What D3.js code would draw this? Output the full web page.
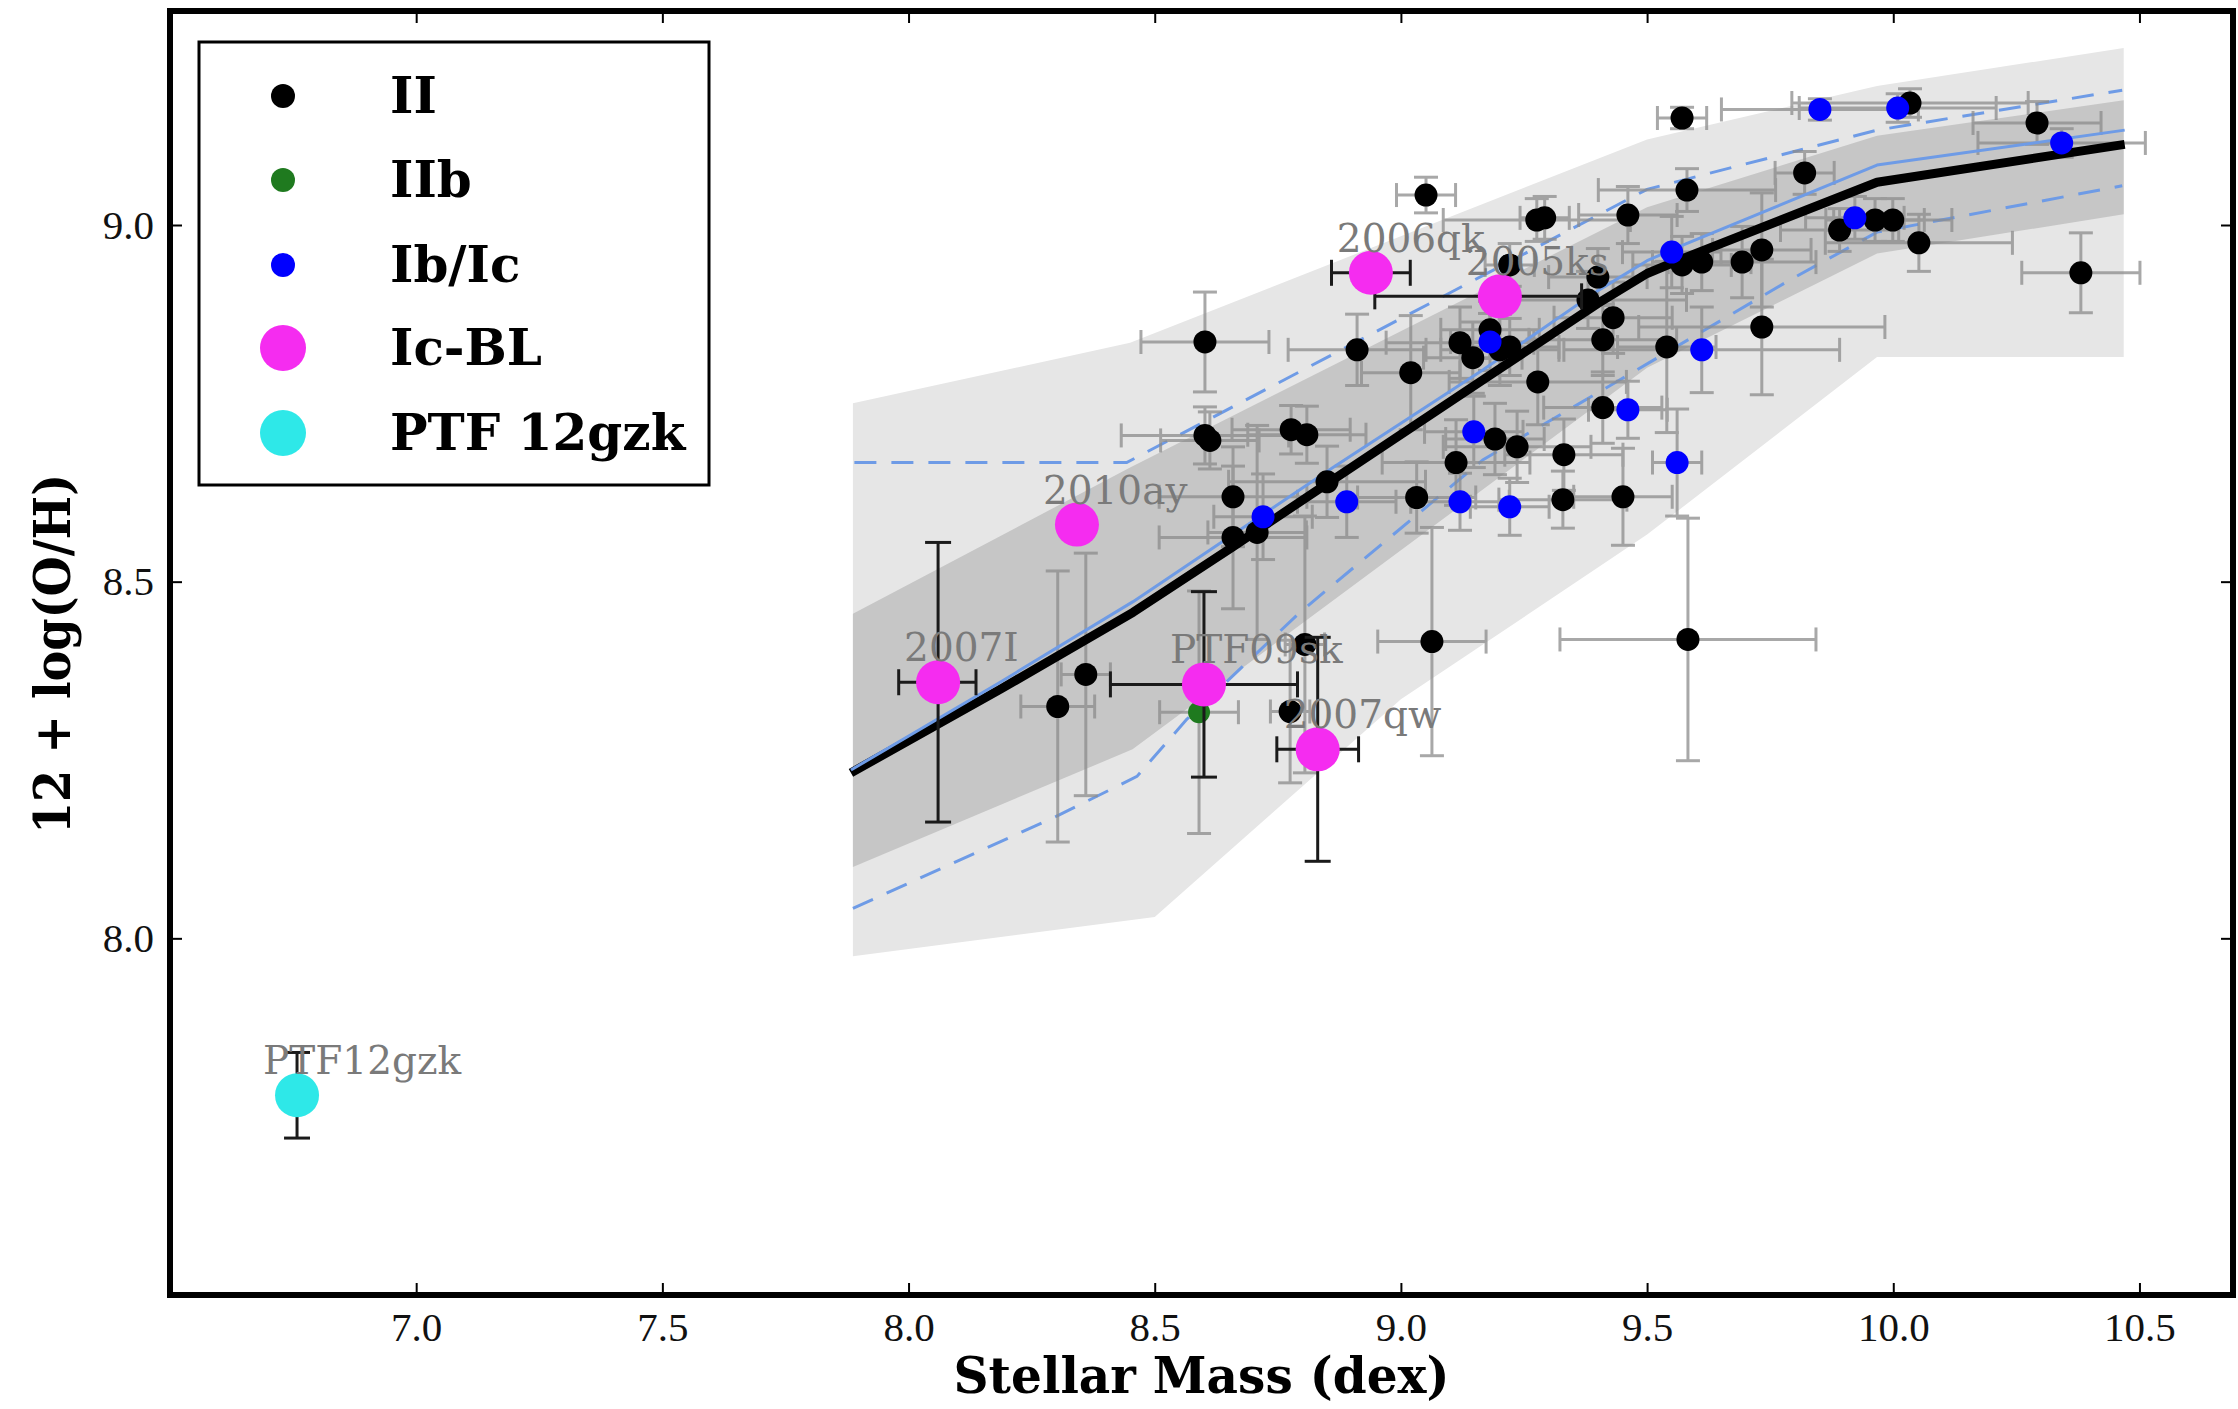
<!DOCTYPE html>
<html><head><meta charset="utf-8">
<script src="https://cdn.jsdelivr.net/npm/d3@7"></script>
<style>html,body{margin:0;padding:0;background:#fff;overflow:hidden;}</style>
</head><body>
<svg id="chart" width="2238" height="1409"></svg>
<script>
// ---------------- DATA ----------------
const xTicks = [7.0, 7.5, 8.0, 8.5, 9.0, 9.5, 10.0, 10.5];
const yTicks = [8.0, 8.5, 9.0];

// Type II
const iiX = [9.051, 9.276, 9.292, 9.461, 9.571, 10.034, 10.292, 9.820, 9.581, 9.571, 9.611, 9.693, 9.733, 9.891, 9.963, 9.999, 10.052, 10.381, 9.733, 9.540, 9.400, 9.380, 9.431, 9.410, 9.410, 9.451, 9.583, 9.063, 8.602, 8.911, 9.020, 9.120, 9.146, 9.181, 9.201, 9.221, 9.278, 8.602, 8.612, 8.777, 8.809, 9.112, 9.191, 9.236, 9.331, 8.659, 8.850, 9.032, 9.329, 8.659, 8.708, 8.360, 8.303, 8.805, 8.775, 9.221];
const iiY = [9.042, 9.007, 9.010, 9.014, 9.150, 9.171, 9.143, 9.073, 9.049, 8.944, 8.948, 8.948, 8.965, 8.993, 9.007, 9.007, 8.975, 8.933, 8.857, 8.829, 8.927, 8.895, 8.870, 8.839, 8.744, 8.619, 8.419, 8.416, 8.836, 8.825, 8.793, 8.835, 8.814, 8.853, 8.825, 8.829, 8.780, 8.705, 8.698, 8.713, 8.706, 8.667, 8.700, 8.689, 8.678, 8.619, 8.640, 8.618, 8.615, 8.562, 8.569, 8.370, 8.325, 8.412, 8.318, 8.944];
const iiXerr = [.06,.19,.05,.10,.05,.24,.13,.06,.18,.10,.10,.15,.10,.12,.10,.12,.19,.12,.25,.10,.10,.20,.12,.15,.12,.10,.26,.11,.13,.14,.10,.15,.10,.10,.12,.10,.18,.17,.10,.12,.12,.15,.10,.15,.12,.15,.20,.12,.13,.15,.10,.05,.075,.04,.04,.05];
const iiYerr = [.025,.03,.03,.04,.015,.02,.03,.03,.03,.04,.04,.05,.08,.03,.03,.03,.04,.056,.095,.12,.04,.04,.05,.05,.05,.068,.17,.16,.07,.05,.08,.05,.05,.04,.05,.04,.06,.04,.04,.034,.04,.06,.05,.05,.05,.07,.05,.05,.04,.10,.15,.17,.19,.18,.10,.03];

// Type IIb
const iibX = [8.590];
const iibY = [8.317];
const iibXerr = [0.08];
const iibYerr = [0.17];

// Type Ib/Ic
const ibX = [9.851, 10.009, 10.342, 9.922, 9.550, 9.611, 9.461, 9.561, 9.181, 9.148, 8.720, 8.890, 9.120, 9.221];
const ibY = [9.162, 9.164, 9.115, 9.010, 8.962, 8.825, 8.741, 8.667, 8.836, 8.710, 8.591, 8.612, 8.612, 8.605];
const ibXerr = [.20, .20, .17, .10, .10, .28, .08, .05, .08, .10, .10, .10, .10, .08];
const ibYerr = [.015, .02, .02, .03, .05, .06, .04, .075, .04, .05, .06, .05, .04, .04];

// Type Ic-BL (labelled)
const icblNames = ['2006qk', '2005ks', '2010ay', '2007I', 'PTF09sk', '2007qw'];
const icblX = [8.939, 9.201, 8.342, 8.060, 8.600, 8.831];
const icblY = [8.933, 8.900, 8.580, 8.359, 8.356, 8.265];
const icblXerrLo = [.08, .254, 0, .08, .19, .083];
const icblXerrHi = [.08, .166, 0, .077, .19, .083];
const icblYerr = [.01, .01, 0, .196, .13, .157];

// PTF 12gzk
const gzkName = ['PTF12gzk'];
const gzkX = [6.758];
const gzkY = [7.78];
const gzkYerr = [0.06];

// Bands (mass-metallicity relation percentiles)
const outerUpX = [7.887, 8.45, 9.5, 9.967, 10.468];
const outerUpY = [8.75, 8.835, 9.12, 9.195, 9.248];
const outerLoX = [7.887, 8.5, 9.0, 9.5, 9.967, 10.468];
const outerLoY = [7.975, 8.03, 8.335, 8.566, 8.815, 8.815];
const innerUpX = [7.887, 8.45, 9.5, 9.967, 10.468];
const innerUpY = [8.455, 8.66, 9.025, 9.125, 9.175];
const innerLoX = [7.887, 8.455, 9.5, 9.967, 10.468];
const innerLoY = [8.10, 8.265, 8.80, 8.96, 9.015];

const dashUpX = [7.89, 8.443, 9.5, 9.967, 10.465];
const dashUpY = [8.667, 8.667, 9.05, 9.133, 9.189];
const dashLoX = [7.887, 8.30, 8.464, 8.565, 8.795, 9.167, 9.445, 9.79, 9.967, 10.465];
const dashLoY = [8.042, 8.171, 8.227, 8.307, 8.457, 8.671, 8.783, 8.923, 8.99, 9.055];

const relX = [7.883, 8.186, 8.456, 8.659, 8.862, 9.167, 9.40, 9.50, 9.58, 9.967, 10.47];
const relBlackY = [8.232, 8.349, 8.457, 8.549, 8.643, 8.783, 8.89, 8.932, 8.955, 9.06, 9.113];
const relBlueY = [8.236, 8.359, 8.472, 8.566, 8.66, 8.797, 8.908, 8.95, 8.974, 9.084, 9.133];

const legendLabels = ['II', 'IIb', 'Ib/Ic', 'Ic-BL', 'PTF 12gzk'];
const legendColors = ['#000000', '#1f7a1f', '#0000ff', '#f52cf0', '#2ee8e8'];

// ---------------- DRAW ----------------
const svg = d3.select('#chart');
const L = 170, R = 2233, T = 11, B = 1295;
const x = d3.scaleLinear().domain([6.5, 10.69]).range([L, R]);
const y = d3.scaleLinear().domain([7.5, 9.3]).range([B, T]);

svg.append('rect').attr('width', 2238).attr('height', 1409).attr('fill', '#fff');
svg.append('defs').append('clipPath').attr('id', 'clip')
  .append('rect').attr('x', L).attr('y', T).attr('width', R - L).attr('height', B - T);
const plot = svg.append('g').attr('clip-path', 'url(#clip)');

const zip = (xs, ys) => xs.map((v, i) => [v, ys[i]]);
const line = d3.line().x(d => x(d[0])).y(d => y(d[1]));

function band(ux, uy, lx, ly, fill) {
  const pts = zip(ux, uy).concat(zip(lx, ly).reverse());
  plot.append('path').attr('d', line(pts) + 'Z').attr('fill', fill).attr('stroke', 'none');
}
band(outerUpX, outerUpY, outerLoX, outerLoY, '#e6e6e6');
band(innerUpX, innerUpY, innerLoX, innerLoY, '#c6c6c6');

plot.append('path').attr('d', line(zip(dashUpX, dashUpY))).attr('fill', 'none')
  .attr('stroke', '#6e9be6').attr('stroke-width', 3).attr('stroke-dasharray', '22,15');
plot.append('path').attr('d', line(zip(dashLoX, dashLoY))).attr('fill', 'none')
  .attr('stroke', '#6e9be6').attr('stroke-width', 3).attr('stroke-dasharray', '22,15');

function errorBars(g, xs, ys, xlo, xhi, ye, color, width, cap) {
  xs.forEach((xv, i) => {
    const cx = x(xv), cy = y(ys[i]);
    const a = xlo[i], b = xhi[i], e = ye[i];
    if (a > 0 || b > 0) {
      const x1 = x(xv - a), x2 = x(xv + b);
      g.append('line').attr('x1', x1).attr('x2', x2).attr('y1', cy).attr('y2', cy)
        .attr('stroke', color).attr('stroke-width', width);
      [x1, x2].forEach(xx => g.append('line').attr('x1', xx).attr('x2', xx)
        .attr('y1', cy - cap).attr('y2', cy + cap).attr('stroke', color).attr('stroke-width', width));
    }
    if (e > 0) {
      const y1 = y(ys[i] + e), y2 = y(ys[i] - e);
      g.append('line').attr('x1', cx).attr('x2', cx).attr('y1', y1).attr('y2', y2)
        .attr('stroke', color).attr('stroke-width', width);
      [y1, y2].forEach(yy => g.append('line').attr('y1', yy).attr('y2', yy)
        .attr('x1', cx - cap).attr('x2', cx + cap).attr('stroke', color).attr('stroke-width', width));
    }
  });
}

const gErr = plot.append('g').attr('opacity', 0.75);
errorBars(gErr, iiX, iiY, iiXerr, iiXerr, iiYerr, '#8c8c8c', 3, 12);
errorBars(gErr, ibX, ibY, ibXerr, ibXerr, ibYerr, '#8c8c8c', 3, 12);
errorBars(gErr, iibX, iibY, iibXerr, iibXerr, iibYerr, '#8c8c8c', 3, 12);

// relation lines
plot.append('path').attr('d', line(zip(relX, relBlackY))).attr('fill', 'none')
  .attr('stroke', '#000').attr('stroke-width', 9).attr('stroke-linejoin', 'round');
plot.append('path').attr('d', line(zip(relX, relBlueY))).attr('fill', 'none')
  .attr('stroke', '#6e9be6').attr('stroke-width', 3).attr('stroke-linejoin', 'round');

function dots(xs, ys, r, color) {
  plot.append('g').selectAll('circle').data(xs).join('circle')
    .attr('cx', d => x(d)).attr('cy', (d, i) => y(ys[i])).attr('r', r).attr('fill', color);
}
dots(iiX, iiY, 11.5, legendColors[0]);
dots(iibX, iibY, 11, legendColors[1]);
dots(ibX, ibY, 11.5, legendColors[2]);

const gErr2 = plot.append('g');
errorBars(gErr2, icblX, icblY, icblXerrLo, icblXerrHi, icblYerr, '#1a1a1a', 3, 13);
errorBars(gErr2, gzkX, gzkY, [0], [0], gzkYerr, '#1a1a1a', 3, 13);
dots(icblX, icblY, 22, legendColors[3]);
dots(gzkX, gzkY, 22, legendColors[4]);

// annotations
const annot = plot.append('g').attr('font-family', 'DejaVu Serif').attr('font-size', 39).attr('fill', '#7a7a7a');
icblNames.forEach((n, i) => annot.append('text').attr('x', x(icblX[i]) - 34).attr('y', y(icblY[i]) - 21).text(n));
gzkName.forEach((n, i) => annot.append('text').attr('x', x(gzkX[i]) - 34).attr('y', y(gzkY[i]) - 21).text(n));

// axes
function styleAxis(g) {
  g.select('.domain').remove();
  g.selectAll('line').attr('stroke', '#000').attr('stroke-width', 2);
  g.selectAll('text').attr('font-family', 'Liberation Serif').attr('font-size', 41).attr('fill', '#111');
}
const fmt = d3.format('.1f');
svg.append('g').attr('transform', `translate(0,${B})`)
  .call(d3.axisBottom(x).tickValues(xTicks).tickSizeInner(-12).tickSizeOuter(0).tickPadding(17).tickFormat(fmt))
  .call(styleAxis);
svg.append('g').attr('transform', `translate(0,${T})`)
  .call(d3.axisTop(x).tickValues(xTicks).tickSizeInner(-12).tickSizeOuter(0).tickFormat(''))
  .call(styleAxis);
svg.append('g').attr('transform', `translate(${L},0)`)
  .call(d3.axisLeft(y).tickValues(yTicks).tickSizeInner(-12).tickSizeOuter(0).tickPadding(16).tickFormat(fmt))
  .call(styleAxis);
svg.append('g').attr('transform', `translate(${R},0)`)
  .call(d3.axisRight(y).tickValues(yTicks).tickSizeInner(-12).tickSizeOuter(0).tickFormat(''))
  .call(styleAxis);

svg.append('rect').attr('x', L).attr('y', T).attr('width', R - L).attr('height', B - T)
  .attr('fill', 'none').attr('stroke', '#000').attr('stroke-width', 6);

// axis labels
svg.append('text').attr('x', (L + R) / 2).attr('y', 1393).attr('text-anchor', 'middle')
  .attr('font-family', 'DejaVu Serif').attr('font-weight', 'bold').attr('font-size', 50).attr('fill', '#000')
  .attr('textLength', 496).attr('lengthAdjust', 'spacingAndGlyphs')
  .text('Stellar Mass (dex)');
svg.append('text').attr('transform', 'translate(70,654) rotate(-90)').attr('text-anchor', 'middle')
  .attr('font-family', 'DejaVu Serif').attr('font-weight', 'bold').attr('font-size', 50).attr('fill', '#000')
  .attr('textLength', 360).attr('lengthAdjust', 'spacingAndGlyphs')
  .text('12 + log(O/H)');

// legend
const lg = svg.append('g');
lg.append('rect').attr('x', 199).attr('y', 42).attr('width', 510).attr('height', 443)
  .attr('fill', '#fff').attr('stroke', '#000').attr('stroke-width', 3);
const rowY = [96, 180, 265, 348, 433];
const legendR = [12, 12, 12, 23, 23];
legendLabels.forEach((lab, i) => {
  lg.append('circle').attr('cx', 283).attr('cy', rowY[i]).attr('r', legendR[i]).attr('fill', legendColors[i]);
  lg.append('text').attr('x', 390).attr('y', rowY[i] + 17)
    .attr('font-family', 'DejaVu Serif').attr('font-weight', 'bold').attr('font-size', 50).attr('fill', '#000')
    .text(lab);
});
</script>
</body></html>
